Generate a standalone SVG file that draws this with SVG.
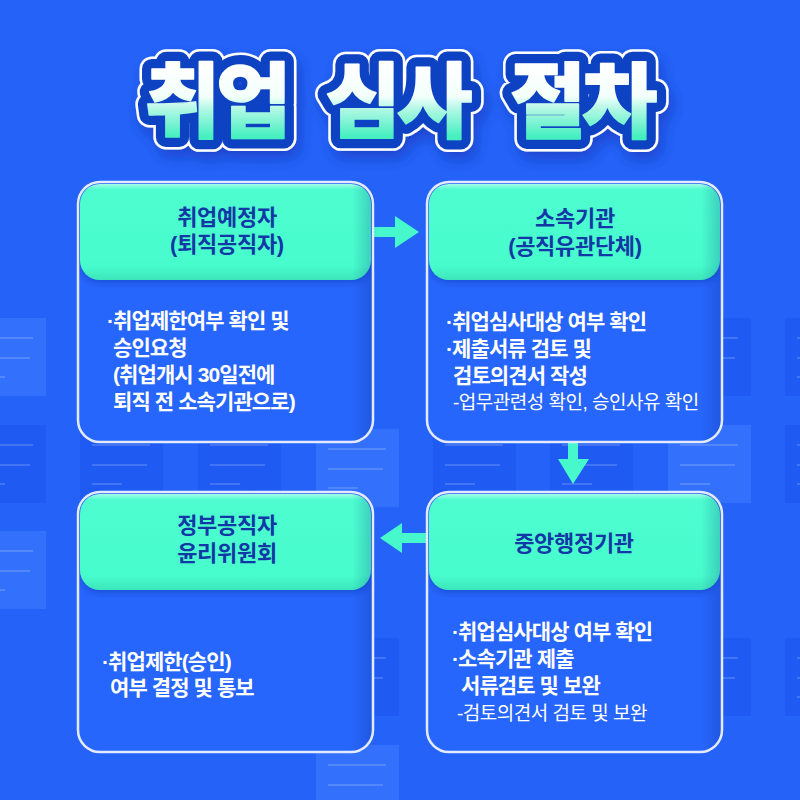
<svg xmlns="http://www.w3.org/2000/svg" xmlns:xlink="http://www.w3.org/1999/xlink" width="800" height="800" viewBox="0 0 800 800">
<defs>
<style>
.ttl{font-family:"Noto Sans CJK KR","Noto Sans",sans-serif;font-weight:900;font-size:82px;letter-spacing:-4px;text-anchor:middle;stroke-linejoin:round;stroke-linecap:round}
.t-w{fill:#ffffff;stroke:#ffffff;stroke-width:25}
.t-b{fill:#1143c2;stroke:#1143c2;stroke-width:20}
.t-f{fill:url(#tg);stroke:url(#tg);stroke-width:1.5}
.hd{font-family:"Liberation Sans","Noto Sans CJK KR",sans-serif;font-weight:700;font-size:22px;letter-spacing:-0.3px;fill:#1238a6;text-anchor:middle}
.bd{font-family:"Liberation Sans","Noto Sans CJK KR",sans-serif;font-weight:700;font-size:21px;letter-spacing:-0.9px;fill:#ffffff}
.sb{font-family:"Liberation Sans","Noto Sans CJK KR",sans-serif;font-weight:400;font-size:19px;letter-spacing:-0.5px;fill:#ffffff}
.body{fill:#2766fc}
.shade{fill:url(#shR)}
.head{fill:url(#hg)}
.frame{fill:none;stroke:#e3e9ff;stroke-width:2.5}
.arr{fill:#47f8cc}
.cl{fill:#3f7bff;opacity:.55}
.cd{fill:#1d55ee;opacity:.6}
.ln{stroke:#ffffff;stroke-opacity:.16;stroke-width:2}
</style>
<linearGradient id="tg" x1="0" y1="63" x2="0" y2="137" gradientUnits="userSpaceOnUse">
<stop offset="0" stop-color="#ffffff"/>
<stop offset="0.45" stop-color="#f3fffb"/>
<stop offset="0.62" stop-color="#b2f8e4"/>
<stop offset="1" stop-color="#44efc0"/>
</linearGradient>
<linearGradient id="hg" x1="0" y1="0" x2="0" y2="1">
<stop offset="0" stop-color="#a5fde6"/>
<stop offset="0.06" stop-color="#4efdd0"/>
<stop offset="0.85" stop-color="#47fccc"/>
<stop offset="1" stop-color="#3de6bb"/>
</linearGradient>
<linearGradient id="shR" x1="0" y1="0" x2="1" y2="0">
<stop offset="0" stop-color="#00207a" stop-opacity="0"/>
<stop offset="0.93" stop-color="#00207a" stop-opacity="0"/>
<stop offset="1" stop-color="#00207a" stop-opacity="0.22"/>
</linearGradient>
<filter id="tsh" x="-20%" y="-30%" width="140%" height="170%">
<feDropShadow dx="4" dy="8" stdDeviation="7" flood-color="#0a2fb0" flood-opacity="0.55"/>
</filter>
<filter id="bsh" x="-10%" y="-10%" width="120%" height="125%">
<feDropShadow dx="0" dy="3" stdDeviation="3" flood-color="#0a2a9a" flood-opacity="0.35"/>
</filter>
<g id="cardL"><rect width="83" height="78" class="cl"/><path class="ln" d="M12 20H70M12 40H67M12 59H42"/></g>
<g id="cardD"><rect width="83" height="78" class="cd"/><path class="ln" d="M12 20H70M12 40H67M12 59H42"/></g>
</defs>

<rect width="800" height="800" fill="#2563f8"/>

<g id="background-cards">
<use xlink:href="#cardL" x="-37" y="318"/>
<use xlink:href="#cardD" x="-37" y="425"/>
<use xlink:href="#cardL" x="-37" y="531"/>
<use xlink:href="#cardD" x="80" y="425"/>
<use xlink:href="#cardD" x="198" y="425"/>
<use xlink:href="#cardL" x="316" y="429"/>
<use xlink:href="#cardD" x="433" y="425"/>
<use xlink:href="#cardD" x="550" y="425"/>
<use xlink:href="#cardL" x="668" y="425"/>
<use xlink:href="#cardD" x="668" y="318"/>
<use xlink:href="#cardD" x="785" y="318"/>
<use xlink:href="#cardD" x="785" y="425"/>
<use xlink:href="#cardD" x="668" y="638"/>
<use xlink:href="#cardD" x="785" y="638"/>
<use xlink:href="#cardD" x="316" y="638"/>
<use xlink:href="#cardL" x="316" y="745"/>
</g>

<g id="title" filter="url(#tsh)">
<text class="ttl t-w" x="216" y="131">취업</text>
<text class="ttl t-w" x="397" y="131">심사</text>
<text class="ttl t-w" x="582" y="131">절차</text>
<text class="ttl t-b" x="216" y="131">취업</text>
<text class="ttl t-b" x="397" y="131">심사</text>
<text class="ttl t-b" x="582" y="131">절차</text>
<text class="ttl t-f" x="216" y="131">취업</text>
<text class="ttl t-f" x="397" y="131">심사</text>
<text class="ttl t-f" x="582" y="131">절차</text>
</g>

<g id="connectors">
<path class="arr" d="M373 227H395V216L419 232L395 248V237H373Z"/>
<path class="arr" d="M568 442V459H558L573 484L589 459H578V442Z"/>
<path class="arr" d="M427 533H402V523L380 538L402 553V543H427Z"/>
</g>

<g id="node-applicant">
<rect class="body" x="78" y="182" width="295" height="260" rx="22"/>
<rect class="head" x="80" y="184" width="291" height="96" rx="20" filter="url(#bsh)"/>
<rect class="shade" x="78" y="182" width="295" height="260" rx="22"/>
<rect class="frame" x="78" y="182" width="295" height="260" rx="22"/>
<text class="hd" x="227" y="225">취업예정자</text>
<text class="hd" x="227" y="252">(퇴직공직자)</text>
<text class="bd" x="107" y="328">·취업제한여부 확인 및</text>
<text class="bd" x="113" y="355">승인요청</text>
<text class="bd" x="113" y="382">(취업개시 30일전에</text>
<text class="bd" x="113" y="409">퇴직 전 소속기관으로)</text>
</g>

<g id="node-agency">
<rect class="body" x="427" y="182" width="295" height="260" rx="22"/>
<rect class="head" x="429" y="184" width="291" height="96" rx="20" filter="url(#bsh)"/>
<rect class="shade" x="427" y="182" width="295" height="260" rx="22"/>
<rect class="frame" x="427" y="182" width="295" height="260" rx="22"/>
<text class="hd" x="575" y="226">소속기관</text>
<text class="hd" x="575" y="254">(공직유관단체)</text>
<text class="bd" x="446" y="329">·취업심사대상 여부 확인</text>
<text class="bd" x="446" y="356">·제출서류 검토 및</text>
<text class="bd" x="453" y="383">검토의견서 작성</text>
<text class="sb" x="453" y="409">-업무관련성 확인, 승인사유 확인</text>
</g>

<g id="node-ministry">
<rect class="body" x="427" y="492" width="295" height="260" rx="22"/>
<rect class="head" x="429" y="494" width="291" height="96" rx="20" filter="url(#bsh)"/>
<rect class="shade" x="427" y="492" width="295" height="260" rx="22"/>
<rect class="frame" x="427" y="492" width="295" height="260" rx="22"/>
<text class="hd" x="574" y="551">중앙행정기관</text>
<text class="bd" x="452" y="639">·취업심사대상 여부 확인</text>
<text class="bd" x="452" y="666">·소속기관 제출</text>
<text class="bd" x="461" y="693">서류검토 및 보완</text>
<text class="sb" x="457" y="720">-검토의견서 검토 및 보완</text>
</g>

<g id="node-committee">
<rect class="body" x="78" y="492" width="295" height="260" rx="22"/>
<rect class="head" x="80" y="494" width="291" height="96" rx="20" filter="url(#bsh)"/>
<rect class="shade" x="78" y="492" width="295" height="260" rx="22"/>
<rect class="frame" x="78" y="492" width="295" height="260" rx="22"/>
<text class="hd" x="227" y="533">정부공직자</text>
<text class="hd" x="227" y="561">윤리위원회</text>
<text class="bd" x="102" y="669">·취업제한(승인)</text>
<text class="bd" x="110" y="695">여부 결정 및 통보</text>
</g>
</svg>
